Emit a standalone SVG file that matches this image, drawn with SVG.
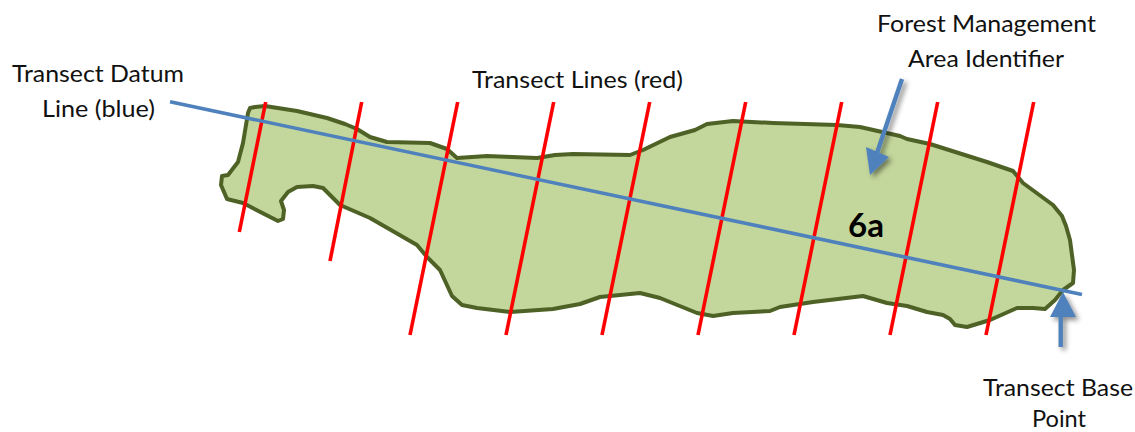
<svg xmlns="http://www.w3.org/2000/svg" width="1135" height="432" viewBox="0 0 1135 432">
<style>
text{font-family:Lato,"Liberation Sans",sans-serif;font-size:23px;fill:#111}
.area{fill:#c3d69b;stroke:#4f6228;stroke-width:4;stroke-linejoin:round}
.red{stroke:#ff0000;stroke-width:3.6;fill:none}
.blue{stroke:#4f81bd;stroke-width:3.6;fill:none}
.pt{stroke:#4f81bd;stroke-width:4.4;fill:none}
.head{fill:#4f81bd}
</style>
<defs>
<filter id="sh" x="-40%" y="-40%" width="200%" height="200%"><feDropShadow dx="3" dy="3" stdDeviation="2.5" flood-color="#000" flood-opacity="0.45"/></filter>
<filter id="soft" x="-5%" y="-5%" width="110%" height="110%"><feGaussianBlur stdDeviation="0.5"/></filter>
</defs>
<g id="area-6a" filter="url(#soft)">
<path class="area" d="M248,113 L250,108 L255,107 L265,106 L297,111 L327,118 L345,124 L357,129 L370,137 L387,142 L430,143 L447,149 L457,158 L487,156 L537,158 L555,155 L573,154 L630,155 L643,150 L670,137 L695,130 L707,124 L733,121 L773,123 L837,125 L860,127 L900,136 L907,139 L930,144 L987,162 L1013,171 L1023,183 L1053,205 L1062,216 L1066,226 L1070,240 L1074,270 L1073,283 L1063,290 L1055,300 L1045,309 L1033,308 L1017,308 L990,320 L967,327 L955,325 L950,319 L943,315 L927,312 L907,306 L887,303 L863,296 L813,302 L780,307 L770,311 L733,313 L713,316 L697,313 L660,298 L640,293 L600,297 L580,304 L553,309 L510,312 L477,308 L462,305 L452,296 L440,270 L427,257 L417,245 L370,218 L340,205 L323,188 L313,186 L297,187 L288,192 L281,201 L284,210 L283,219 L278,221 L243,203 L227,199 L221,185 L222,176 L228,175 L238,162 L243,143 Z"/>
</g>
<g id="connectors">
<g filter="url(#soft)">
<line class="red" x1="265.700" y1="102" x2="239.300" y2="232"/>
<line class="red" x1="361.700" y1="102" x2="330" y2="261"/>
<line class="red" x1="457.700" y1="102" x2="410" y2="335"/>
<line class="red" x1="553.700" y1="102" x2="506" y2="335"/>
<line class="red" x1="649.700" y1="102" x2="602" y2="335"/>
<line class="red" x1="745.700" y1="102" x2="698" y2="335"/>
<line class="red" x1="841.700" y1="102" x2="794" y2="335"/>
<line class="red" x1="937.700" y1="102" x2="890" y2="335"/>
<line class="red" x1="1033.700" y1="102" x2="986" y2="335"/>
<line class="blue" x1="170" y1="101.700" x2="1082" y2="294.500"/>
</g>
<g filter="url(#sh)">
<line class="pt" x1="902" y1="79" x2="877" y2="153"/>
<polygon class="head" points="866,147 889,157 870,175"/>
</g>
<g filter="url(#sh)">
<line class="pt" x1="1060.700" y1="347" x2="1060.700" y2="317"/>
<polygon class="head" points="1063,292 1050,317 1076,317"/>
</g>
</g>
<g id="label-datum">
<text x="12" y="82" textLength="172" lengthAdjust="spacingAndGlyphs">Transect Datum</text>
<text x="42" y="117" textLength="113" lengthAdjust="spacingAndGlyphs">Line (blue)</text>
</g>
<g id="label-lines">
<text x="472" y="88" textLength="211" lengthAdjust="spacingAndGlyphs">Transect Lines (red)</text>
</g>
<g id="label-fma">
<text x="877" y="32" textLength="219" lengthAdjust="spacingAndGlyphs">Forest Management</text>
<text x="908" y="67" textLength="156" lengthAdjust="spacingAndGlyphs">Area Identifier</text>
</g>
<g id="label-6a">
<text x="848" y="237" textLength="36" lengthAdjust="spacingAndGlyphs" style="font-size:32px;font-weight:700;fill:#000">6a</text>
</g>
<g id="label-base">
<text x="983" y="396" textLength="150" lengthAdjust="spacingAndGlyphs">Transect Base</text>
<text x="1032" y="427" textLength="54" lengthAdjust="spacingAndGlyphs">Point</text>
</g>
</svg>
